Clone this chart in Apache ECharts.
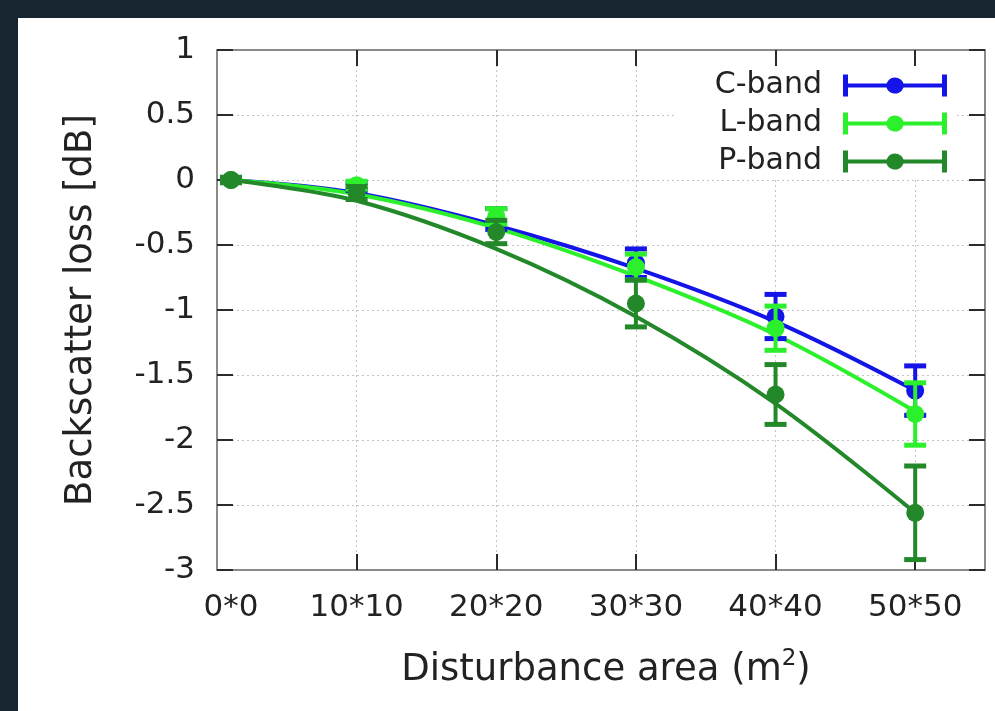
<!doctype html>
<html>
<head>
    <meta charset="utf-8">
    <title>Backscatter loss</title>
    <script src="https://cdn.jsdelivr.net/npm/echarts@6/dist/echarts.min.js"></script>
    <style>
        html, body { margin: 0; padding: 0; background: #172530; }
        #main { position: absolute; left: 18px; top: 18px; width: 977px; height: 693px; background: #fff; }
    </style>
</head>
<body>
    <div id="main"></div>
    <script type="text/javascript">
        // x positions of the measurements and the tick text under them
        var xVals = [1, 10, 20, 30, 40, 50];
        var xLabels = ['0*0', '10*10', '20*20', '30*30', '40*40', '50*50'];

        // measured points (mean) and half error bar
        var cMean = [0, -0.05, -0.30, -0.64, -1.05, -1.62];
        var cErr  = [0.02, 0.03, 0.08, 0.11, 0.17, 0.19];
        var lMean = [0, -0.04, -0.28, -0.67, -1.14, -1.80];
        var lErr  = [0.02, 0.03, 0.06, 0.10, 0.17, 0.24];
        var pMean = [0, -0.10, -0.40, -0.95, -1.65, -2.56];
        var pErr  = [0.02, 0.05, 0.09, 0.18, 0.23, 0.36];

        // fitted curves at the same x
        var cFit = [0, -0.10, -0.35, -0.68, -1.09, -1.62];
        var lFit = [0, -0.11, -0.37, -0.74, -1.19, -1.78];
        var pFit = [0, -0.16, -0.53, -1.05, -1.72, -2.56];

        var bands = [
            {name: 'C-band', color: '#1414e8', mean: cMean, err: cErr, fit: cFit},
            {name: 'L-band', color: '#2cf02c', mean: lMean, err: lErr, fit: lFit},
            {name: 'P-band', color: '#23882a', mean: pMean, err: pErr, fit: pFit}
        ];

        var font = 'DejaVu Sans';
        var legendIcon = 'path://M0,0H5V9H43.5A9,9 0 0 1 60.5,9H99V0H104V22H99V13H60.5A9,9 0 0 1 43.5,13H5V22H0Z';

        function errorBar(params, api) {
            var x = api.value(0);
            var lo = api.coord([x, api.value(1)]);
            var hi = api.coord([x, api.value(2)]);
            var half = 11;
            var col = api.visual('color');
            var st = {stroke: col, lineWidth: 4};
            var capSt = {stroke: col, lineWidth: 5};
            return {
                type: 'group',
                children: [
                    {type: 'line', shape: {x1: lo[0], y1: lo[1], x2: hi[0], y2: hi[1]}, style: st},
                    {type: 'line', shape: {x1: lo[0] - half, y1: lo[1], x2: lo[0] + half, y2: lo[1]}, style: capSt},
                    {type: 'line', shape: {x1: hi[0] - half, y1: hi[1], x2: hi[0] + half, y2: hi[1]}, style: capSt}
                ]
            };
        }

        var series = [];
        bands.forEach(function (b, i) {
            series.push({
                name: b.name,
                type: 'line',
                smooth: 0.35,
                showSymbol: false,
                color: b.color,
                lineStyle: {width: 4, color: b.color},
                z: 2 + i,
                data: xVals.map(function (x, k) { return [x, b.fit[k]]; })
            });
        });
        bands.forEach(function (b, i) {
            series.push({
                name: b.name,
                type: 'custom',
                color: b.color,
                renderItem: errorBar,
                z: 6 + i * 2,
                data: xVals.map(function (x, k) { return [x, b.mean[k] - b.err[k], b.mean[k] + b.err[k]]; })
            });
            series.push({
                name: b.name,
                type: 'scatter',
                symbolSize: 18,
                color: b.color,
                itemStyle: {color: b.color, opacity: 1},
                z: 7 + i * 2,
                data: xVals.map(function (x, k) { return [x, b.mean[k]]; })
            });
        });

        var chart = echarts.init(document.getElementById('main'));
        var gridLine = {show: true, lineStyle: {color: '#c4c4c4', type: [2, 3], width: 1}};
        var frame = {show: true, onZero: false, lineStyle: {color: '#8a8a8a', width: 2}};
        var tickStyle = {color: '#2a2a2a', width: 2};

        chart.setOption({
            animation: false,
            backgroundColor: '#ffffff',
            textStyle: {fontFamily: font},
            grid: {left: 199, right: 10, top: 32, bottom: 141},
            legend: {
                data: ['C-band', 'L-band', 'P-band'],
                orient: 'vertical',
                right: 38,
                top: 48,
                align: 'right',
                icon: legendIcon,
                itemWidth: 104,
                itemHeight: 22,
                itemGap: 7,
                padding: [4, 10, 0, 40],
                backgroundColor: '#ffffff',
                selectedMode: false,
                textStyle: {fontFamily: font, fontSize: 30, color: '#222', padding: [0, 16, 0, 0], lineHeight: 31}
            },
            xAxis: [{
                type: 'value',
                min: 0,
                max: 55,
                interval: 10,
                name: 'Disturbance area (m{sup|2})',
                nameLocation: 'middle',
                nameGap: 78,
                nameTextStyle: {
                    fontFamily: font, fontSize: 37, color: '#222', lineHeight: 44, padding: [0, 0, 0, 10],
                    rich: {sup: {fontFamily: font, fontSize: 23, color: '#222', verticalAlign: 'top', lineHeight: 24}}
                },
                axisLine: frame,
                axisTick: {show: true, inside: true, length: 16, customValues: [10, 20, 30, 40, 50], lineStyle: tickStyle},
                axisLabel: {
                    customValues: xVals,
                    margin: 22,
                    fontFamily: font, fontSize: 31, color: '#222',
                    formatter: function (v) { return xLabels[xVals.indexOf(v)]; }
                },
                splitLine: gridLine
            }, {
                type: 'value',
                position: 'top',
                min: 0,
                max: 55,
                interval: 10,
                axisLine: frame,
                axisTick: {show: true, inside: true, length: 16, customValues: [10, 20, 30, 40, 50], lineStyle: tickStyle},
                axisLabel: {show: false},
                splitLine: {show: false}
            }],
            yAxis: [{
                type: 'value',
                min: -3,
                max: 1,
                interval: 0.5,
                name: 'Backscatter loss [dB]',
                nameLocation: 'middle',
                nameGap: 117,
                nameTextStyle: {fontFamily: font, fontSize: 37, color: '#222'},
                axisLine: frame,
                axisTick: {show: true, inside: true, length: 16, lineStyle: tickStyle},
                axisLabel: {margin: 22, fontFamily: font, fontSize: 31, color: '#222'},
                splitLine: gridLine
            }, {
                type: 'value',
                position: 'right',
                min: -3,
                max: 1,
                interval: 0.5,
                axisLine: frame,
                axisTick: {show: true, inside: true, length: 16, lineStyle: tickStyle},
                axisLabel: {show: false},
                splitLine: {show: false}
            }],
            series: series
        });
    </script>
</body>
</html>
